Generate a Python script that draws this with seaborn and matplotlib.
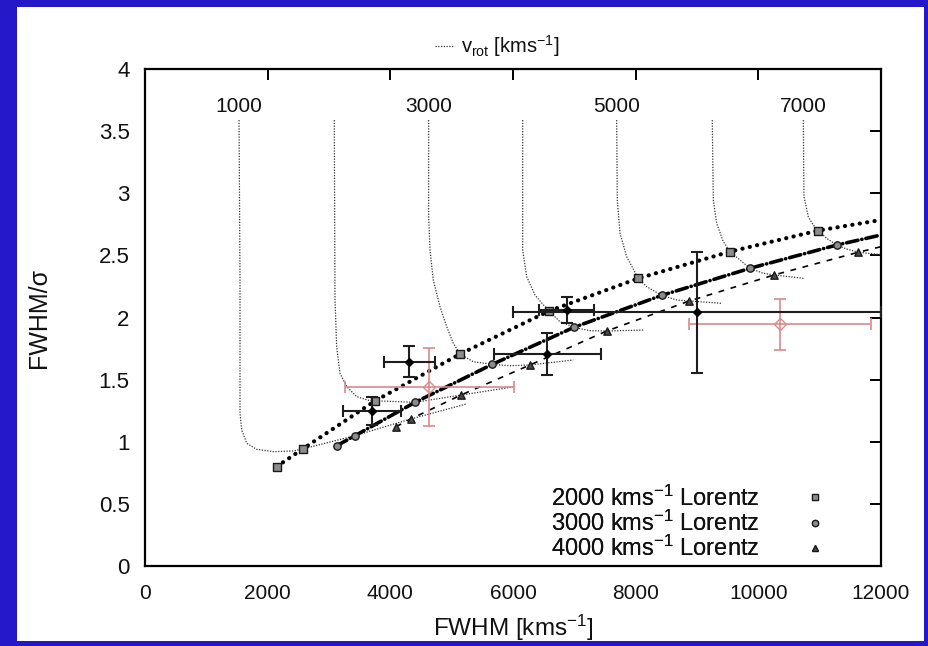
import matplotlib
matplotlib.use("Agg")
import matplotlib.pyplot as plt
from matplotlib.lines import Line2D
from matplotlib.patches import Rectangle
import pandas as pd
import seaborn as sns

sns.set_theme(style="white")
plt.rcParams["font.family"] = ["Liberation Sans", "DejaVu Sans"]
plt.rcParams["mathtext.fontset"] = "custom"
plt.rcParams["mathtext.rm"] = "Liberation Sans"
plt.rcParams["mathtext.it"] = "Liberation Sans:italic"
plt.rcParams["mathtext.bf"] = "Liberation Sans:bold"

UNIT = r"kms$^{-1}$"

# ---------------------------------------------------------------- data
# rotation velocities [km/s] of the model curves, and which ones get a label
vrot_values = [1000, 2000, 3000, 4000, 5000, 6000, 7000]
vrot_labelled = [1000, 3000, 5000, 7000]

# FWHM [km/s] and FWHM/sigma along each constant-v_rot curve
vrot1000_fwhm = [1533, 1549, 1549, 1577, 1658, 1821, 2092, 2418, 2571, 3424, 4331, 5241]
vrot1000_ratio = [3.589, 2.302, 1.231, 1.095, 0.988, 0.939, 0.920, 0.926, 0.942, 1.049, 1.183, 1.304]
vrot2000_fwhm = [3086, 3098, 3125, 3179, 3289, 3452, 3668, 3755, 4402, 5152, 6000]
vrot2000_ratio = [3.589, 2.141, 1.765, 1.551, 1.443, 1.363, 1.330, 1.330, 1.317, 1.376, 1.441]
vrot3000_fwhm = [4625, 4625, 4647, 4700, 4810, 4919, 5027, 5136, 5353, 5663, 5951, 6277, 6983]
vrot3000_ratio = [3.589, 2.811, 2.543, 2.302, 2.087, 1.926, 1.792, 1.706, 1.644, 1.623, 1.612, 1.618, 1.658]
vrot4000_fwhm = [6158, 6158, 6223, 6359, 6468, 6587, 6766, 6994, 7255, 7527, 8124]
vrot4000_ratio = [3.589, 2.543, 2.328, 2.181, 2.117, 2.052, 1.966, 1.921, 1.894, 1.891, 1.899]
vrot5000_fwhm = [7690, 7700, 7745, 7853, 8043, 8180, 8424, 8669, 8874, 9404]
vrot5000_ratio = [3.589, 2.946, 2.678, 2.489, 2.315, 2.248, 2.178, 2.141, 2.133, 2.114]
vrot6000_fwhm = [9249, 9266, 9321, 9429, 9538, 9701, 9864, 10081, 10255, 10744]
vrot6000_ratio = [3.589, 2.946, 2.758, 2.610, 2.530, 2.463, 2.396, 2.356, 2.342, 2.315]
vrot7000_fwhm = [10733, 10744, 10815, 10896, 10978, 11114, 11277, 11440, 11630, 11984]
vrot7000_ratio = [3.589, 2.972, 2.811, 2.744, 2.700, 2.637, 2.583, 2.551, 2.525, 2.507]

# Lorentzian widths, each sampled at v_rot = 0, 1000, ..., 7000 km/s
lor2000_fwhm = [2147, 2571, 3755, 5136, 6587, 8043, 9538, 10978]
lor2000_ratio = [0.800, 0.942, 1.330, 1.706, 2.052, 2.315, 2.530, 2.700]
lor3000_fwhm = [3125, 3424, 4402, 5663, 6994, 8424, 9864, 11277]
lor3000_ratio = [0.968, 1.049, 1.317, 1.623, 1.921, 2.178, 2.396, 2.583]
lor4000_fwhm = [4092, 4331, 5152, 6277, 7527, 8874, 10255, 11630]
lor4000_ratio = [1.121, 1.183, 1.376, 1.618, 1.891, 2.133, 2.342, 2.525]
# where each Lorentzian sequence leaves the plot on the right
lor_edge_fwhm = 12000
lor2000_edge_ratio = 2.785
lor3000_edge_ratio = 2.664
lor4000_edge_ratio = 2.570

# measured lines (black) with symmetric errors
obs_fwhm = [3696, 4310, 6560, 6875, 9000]
obs_fwhm_err = [474, 420, 877, 446, 3000]
obs_ratio = [1.247, 1.644, 1.706, 2.060, 2.042]
obs_ratio_err = [0.115, 0.125, 0.168, 0.105, 0.485]

# measured lines (red) with symmetric errors
alt_fwhm = [4636, 10353]
alt_fwhm_err = [1376, 1487]
alt_ratio = [1.443, 1.945]
alt_ratio_err = [0.314, 0.203]

x_ticks = [0, 2000, 4000, 6000, 8000, 10000, 12000]
x_tick_labels = ["0", "2000", "4000", "6000", "8000", "10000", "12000"]
y_ticks = [0, 0.5, 1, 1.5, 2, 2.5, 3, 3.5, 4]
y_tick_labels = ["0", "0.5", "1", "1.5", "2", "2.5", "3", "3.5", "4"]

vrot_curves = {
    1000: (vrot1000_fwhm, vrot1000_ratio),
    2000: (vrot2000_fwhm, vrot2000_ratio),
    3000: (vrot3000_fwhm, vrot3000_ratio),
    4000: (vrot4000_fwhm, vrot4000_ratio),
    5000: (vrot5000_fwhm, vrot5000_ratio),
    6000: (vrot6000_fwhm, vrot6000_ratio),
    7000: (vrot7000_fwhm, vrot7000_ratio),
}

# ---------------------------------------------------------------- figure
W, H = 929, 646
fig = plt.figure(figsize=(W / 100, H / 100), dpi=100)
fig.patch.set_facecolor("#2418c8")
fig.patches.append(Rectangle((17 / W, 5 / H), 907 / W, 634 / H,
                             transform=fig.transFigure, facecolor="white",
                             edgecolor="none", zorder=-10))

ax = fig.add_axes([145 / W, (H - 566) / H, 736 / W, 497 / H])
ax.set_facecolor("white")

CURVE_KW = dict(color="#333333", linewidth=0.9, dashes=(1.0, 1.2))

# constant-v_rot curves
for v in vrot_values:
    xs, ys = vrot_curves[v]
    df = pd.DataFrame({"fwhm": xs, "ratio": ys})
    sns.lineplot(data=df, x="fwhm", y="ratio", ax=ax, sort=False,
                 estimator=None, legend=False, zorder=2, **CURVE_KW)
    if v in vrot_labelled:
        ax.text(xs[0], 3.70, str(v), ha="center", va="center", fontsize=15,
                color="#111111")

# Lorentzian sequences
series = [
    (lor2000_fwhm, lor2000_ratio, lor2000_edge_ratio, "s", "#8c8c8c",
     dict(linewidth=3.0, dashes=(0.05, 1.75), dash_capstyle="round")),
    (lor3000_fwhm, lor3000_ratio, lor3000_edge_ratio, "o", "#8c8c8c",
     dict(linewidth=2.6, dashes=(3.2, 1.1, 0.05, 1.1), dash_capstyle="round")),
    (lor4000_fwhm, lor4000_ratio, lor4000_edge_ratio, "^", "#4a4a4a",
     dict(linewidth=1.2, dashes=(3.5, 4.0))),
]
for xs, ys, edge, mk, fc, lkw in series:
    line_df = pd.DataFrame({"fwhm": xs + [lor_edge_fwhm], "ratio": ys + [edge]})
    sns.lineplot(data=line_df, x="fwhm", y="ratio", ax=ax, estimator=None,
                 legend=False, color="black", zorder=3, **lkw)
    pts = pd.DataFrame({"fwhm": xs, "ratio": ys})
    sns.scatterplot(data=pts, x="fwhm", y="ratio", ax=ax, marker=mk, s=28,
                    color=fc, edgecolor="#1a1a1a", linewidth=1.0,
                    legend=False, zorder=4)

# measurements
ax.errorbar(obs_fwhm, obs_ratio, xerr=obs_fwhm_err, yerr=obs_ratio_err,
            fmt="D", ms=4.5, color="black", ecolor="#1e1e1e", elinewidth=1.5,
            capsize=4.2, capthick=1.5, zorder=6)
ax.errorbar(alt_fwhm, alt_ratio, xerr=alt_fwhm_err, yerr=alt_ratio_err,
            fmt="D", ms=6, mfc="none", mec="#d98a8a", color="#d98a8a",
            ecolor="#d98a8a", elinewidth=1.2, capsize=4.2, capthick=1.2,
            zorder=5)

# axes
ax.set_xlim(0, 12000)
ax.set_ylim(0, 4)
ax.set_xticks(x_ticks)
ax.set_xticklabels(x_tick_labels)
ax.set_yticks(y_ticks)
ax.set_yticklabels(y_tick_labels)
ax.tick_params(axis="both", which="major", direction="in", length=8,
               width=1.4, color="black", top=True, right=True,
               labelcolor="#111111")
ax.tick_params(axis="x", labelsize=15, pad=13)
ax.tick_params(axis="y", labelsize=16, pad=11)
for sp in ax.spines.values():
    sp.set_visible(True)
    sp.set_color("black")
    sp.set_linewidth(1.6)
ax.grid(False)

ax.set_xlabel("FWHM [" + UNIT + "]", fontsize=17.5, color="#111111")
ax.set_ylabel("FWHM/\u03c3", fontsize=18, color="#111111")
ax.xaxis.set_label_coords(0.5, -0.094)
ax.yaxis.set_label_coords(-0.128, 0.5)

# key for the model sequences
lor_handles = [
    Line2D([], [], linestyle="none", marker=m, ms=4.5, mfc=c,
           mec="#1a1a1a", mew=0.9)
    for m, c in (("s", "#8c8c8c"), ("o", "#8c8c8c"), ("^", "#4a4a4a"))
]
lor_labels = [f"{w} " + UNIT + " Lorentz" for w in (2000, 3000, 4000)]
leg = ax.legend(lor_handles, lor_labels, loc="lower right",
                bbox_to_anchor=(0.939, -0.009), frameon=False, fontsize=17,
                markerfirst=False, handlelength=1.0, handletextpad=1.87,
                labelspacing=0.0, borderaxespad=0.0, labelcolor="#111111")
ax.add_artist(leg)

# key for the v_rot curves, above the plot
vkey = fig.legend([Line2D([], [], color=CURVE_KW["color"],
                          linewidth=CURVE_KW["linewidth"],
                          linestyle=(0, (1.0, 1.2)))],
                  [r"v$_{\mathrm{rot}}$ [" + UNIT + "]"],
                  loc="center left", bbox_to_anchor=(427 / W, (H - 46) / H),
                  frameon=False, fontsize=14.5, handlelength=0.9,
                  handletextpad=0.4, borderaxespad=0.0, labelcolor="#111111")

fig.savefig("out.png", dpi=100, facecolor=fig.get_facecolor())
